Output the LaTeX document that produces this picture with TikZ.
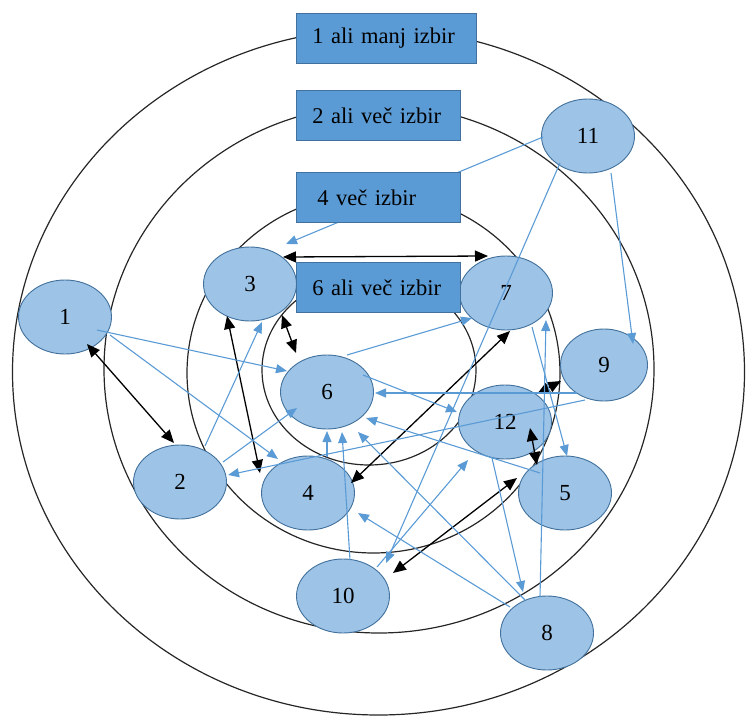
\documentclass[tikz,border=0pt]{standalone}
\usepackage{fontspec}
\setmainfont{Liberation Serif}
\usetikzlibrary{arrows.meta,calc,shapes.geometric}
\definecolor{nodefill}{HTML}{9DC3E6}
\definecolor{nodeline}{HTML}{41719C}
\definecolor{boxfill}{HTML}{5B9BD5}
\definecolor{edgeblue}{HTML}{5B9BD5}
\begin{document}
\begin{tikzpicture}[x=1pt,y=-1pt,
  ring/.style={draw=black!85, line width=1.2pt},
  nd/.style={ellipse, draw=nodeline, fill=nodefill, line width=0.9pt, minimum width=93pt, minimum height=74pt, inner sep=0pt, font=\fontsize{23pt}{26pt}\selectfont},
  lvl/.style={rectangle, draw=nodeline, fill=boxfill, line width=0.8pt, anchor=north west, minimum height=50pt, inner xsep=16pt, inner ysep=0pt, align=left, font=\fontsize{22.5pt}{26pt}\selectfont},
  be/.style={draw=edgeblue, line width=1.1pt, -{Triangle[length=11pt,width=9pt]}},
  ke/.style={draw=black, line width=1.3pt, {Triangle[length=13pt,width=11pt]}-{Triangle[length=13pt,width=11pt]}}
]
\useasboundingbox (0,0) rectangle (747,717);
% concentric rings
\draw[ring] (378.5,372) ellipse [x radius=366, y radius=343];
\draw[ring] (379,369) ellipse [x radius=275, y radius=264];
\draw[ring] (373.5,373) ellipse [x radius=186.5, y radius=180];
\draw[ring] (369,370) ellipse [x radius=107, y radius=95];
% nodes
\node[nd] (n1) at (65,317) {1};
\node[nd] (n2) at (180,482) {2};
\node[nd] (n3) at (250,284) {3};
\node[nd] (n4) at (308,493) {4};
\node[nd] (n5) at (565,493) {5};
\node[nd] (n6) at (327,392) {6};
\node[nd] (n7) at (506,293) {7};
\node[nd] (n8) at (547,633) {8};
\node[nd, minimum width=87pt, minimum height=72pt] (n9) at (604,365) {9};
\node[nd] (n10) at (343,596) {10};
\node[nd] (n11) at (588,136) {11};
\node[nd] (n12) at (505,422) {12};
% black two-way connectors
\draw[ke] ($(n3)+(33,-27)$) -- ($(n7)+(-18,-37)$);
\draw[ke] ($(n1)+(22,27)$) -- ($(n2)+(-6,-39)$);
\draw[ke] ($(n3)+(32,31)$) -- ($(n6)+(-31,-39)$);
\draw[ke] ($(n3)+(-23,32)$) -- ($(n4)+(-48,-20)$);
\draw[ke] ($(n7)+(4,38)$) -- ($(n4)+(43,-10)$);
\draw[ke] ($(n9)+(-43,16)$) -- ($(n12)+(32,-28)$);
\draw[ke] ($(n12)+(25,6)$) -- ($(n5)+(-28,-28)$);
\draw[ke] ($(n10)+(50,-23)$) -- ($(n5)+(-48,-15)$);
% blue connectors
\draw[be] ($(n1)+(32,13)$) -- ($(n6)+(-40,-21)$);
\draw[be] ($(n1)+(45,18)$) -- ($(n4)+(-30,-34)$);
\draw[be] ($(n2)+(25,-36)$) -- ($(n3)+(12,38)$);
\draw[be] ($(n2)+(43,-20)$) -- ($(n6)+(-30,16)$);
\draw[be] ($(n4)+(19,-36)$) -- ($(n6)+(0,39)$);
\draw[be] ($(n10)+(7,-36)$) -- ($(n6)+(15,40)$);
\draw[be] ($(n5)+(-25,-20)$) -- ($(n6)+(39,26)$);
\draw[be] ($(n8)+(-22,-33)$) -- ($(n6)+(31,40)$);
\draw[be] ($(n9)+(-27,28)$) -- ($(n6)+(48,1)$);
\draw[be] ($(n6)+(20,-37)$) -- ($(n7)+(-34,25)$);
\draw[be] ($(n6)+(36,-17)$) -- ($(n12)+(-48,-10)$);
\draw[be] ($(n7)+(26,34)$) -- ($(n5)+(2,-37)$);
\draw[be] ($(n8)+(-37,-26)$) -- ($(n4)+(50,20)$);
\draw[be] ($(n8)+(-7,-36)$) -- ($(n7)+(40,27)$);
\draw[be] ($(n9)+(-19,35)$) -- ($(n2)+(48,-7)$);
\draw[be] ($(n10)+(34,-29)$) -- ($(n12)+(-37,38)$);
\draw[be] ($(n11)+(-45,1)$) -- ($(n3)+(36,-40)$);
\draw[be] ($(n11)+(23,37)$) -- ($(n9)+(29,-21)$);
\draw[be] ($(n11)+(-28,27)$) -- ($(n10)+(43,-33)$);
\draw[be] ($(n12)+(-13,36)$) -- ($(n8)+(-24,-41)$);
% level boxes
\node[lvl, minimum width=180pt, text width=148pt] (b1) at (296,13) {1 ali manj izbir};
\node[lvl, minimum width=164pt, text width=132pt] (b2) at (296,90) {2 ali več izbir};
\node[lvl, minimum width=164pt, text width=132pt] (b4) at (296,172) {\hspace*{5pt}4 več izbir};
\node[lvl, minimum width=164pt, text width=132pt] (b6) at (296,262) {6 ali več izbir};
\end{tikzpicture}
\end{document}
